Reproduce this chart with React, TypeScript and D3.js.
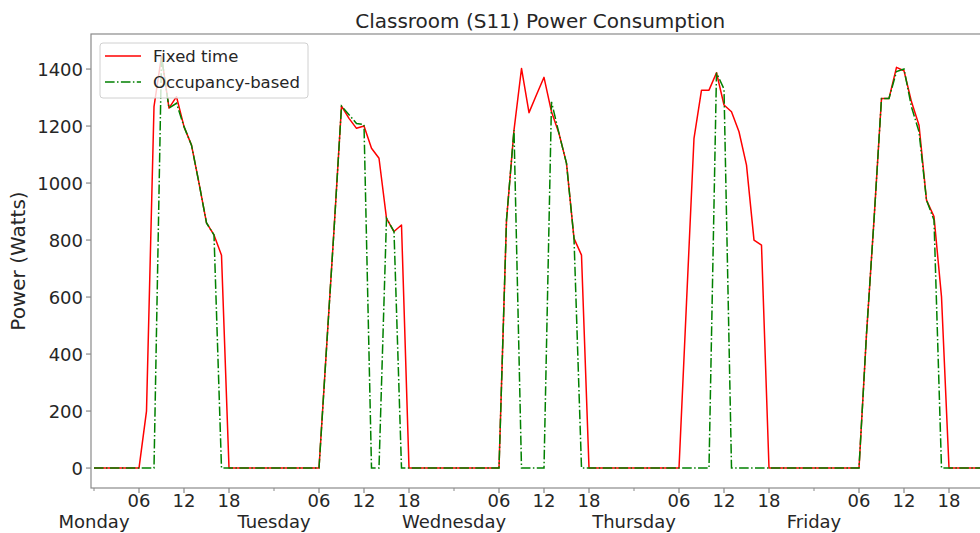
import * as d3 from "d3";

const W = 980;
const H = 533;
const FONT = "'DejaVu Sans', sans-serif";

// hourly readings, Monday 00:00 .. Friday 23:00 (Watts)
const days = ["Monday", "Tuesday", "Wednesday", "Thursday", "Friday"];
const hourLabels = ["06", "12", "18"];
const yTicks = [0, 200, 400, 600, 800, 1000, 1200, 1400];

const fixedMon = [0, 0, 0, 0, 0, 0, 0, 200, 1268, 1445, 1263, 1303, 1198, 1133, 1000, 860, 818, 747, 0, 0, 0, 0, 0, 0];
const fixedTue = [0, 0, 0, 0, 0, 0, 0, 420, 835, 1270, 1227, 1192, 1200, 1122, 1087, 876, 830, 853, 0, 0, 0, 0, 0, 0];
const fixedWed = [0, 0, 0, 0, 0, 0, 0, 870, 1186, 1402, 1247, 1310, 1371, 1250, 1174, 1069, 806, 747, 0, 0, 0, 0, 0, 0];
const fixedThu = [0, 0, 0, 0, 0, 0, 0, 580, 1157, 1326, 1326, 1387, 1274, 1250, 1180, 1063, 800, 782, 0, 0, 0, 0, 0, 0];
const fixedFri = [0, 0, 0, 0, 0, 0, 0, 470, 870, 1297, 1297, 1406, 1394, 1285, 1203, 940, 882, 601, 0, 0, 0, 0, 0, 0];

const occMon = [0, 0, 0, 0, 0, 0, 0, 0, 0, 1445, 1263, 1280, 1198, 1133, 1000, 860, 818, 0, 0, 0, 0, 0, 0, 0];
const occTue = [0, 0, 0, 0, 0, 0, 0, 420, 835, 1270, 1240, 1209, 1205, 0, 0, 876, 830, 0, 0, 0, 0, 0, 0, 0];
const occWed = [0, 0, 0, 0, 0, 0, 0, 870, 1186, 0, 0, 0, 0, 1285, 1174, 1069, 806, 0, 0, 0, 0, 0, 0, 0];
const occThu = [0, 0, 0, 0, 0, 0, 0, 0, 0, 0, 0, 1387, 1330, 0, 0, 0, 0, 0, 0, 0, 0, 0, 0, 0];
const occFri = [0, 0, 0, 0, 0, 0, 0, 470, 870, 1297, 1297, 1391, 1400, 1267, 1180, 940, 870, 0, 0, 0, 0, 0, 0, 0];

const fixedTime = [...fixedMon, ...fixedTue, ...fixedWed, ...fixedThu, ...fixedFri];
const occupancy = [...occMon, ...occTue, ...occWed, ...occThu, ...occFri];

const MARGIN = { top: 34, left: 91 };
const PLOT_RIGHT = 989.5;
const PLOT_BOTTOM = 488;

export default function App() {
  const x = d3.scaleLinear().domain([-0.4, 119.4]).range([MARGIN.left, PLOT_RIGHT]);
  const y = d3.scaleLinear().domain([-70, 1523]).range([PLOT_BOTTOM, MARGIN.top]);

  const line = d3
    .line<number>()
    .x((_, i) => x(i))
    .y((d) => y(d));

  const hours = d3.range(0, fixedTime.length);
  const majorHours = hours.filter((h) => h % 6 === 0 && h % 24 !== 0);
  const dayHours = hours.filter((h) => h % 24 === 0);

  const spine = "#8a8a8a";
  const txt = "#262626";

  return (
    <svg width={W} height={H} style={{ position: "absolute", left: 0, top: 0, background: "#fff" }} fontFamily={FONT}>
      <defs>
        <clipPath id="plot">
          <rect x={MARGIN.left} y={MARGIN.top} width={PLOT_RIGHT - MARGIN.left} height={PLOT_BOTTOM - MARGIN.top} />
        </clipPath>
      </defs>

      <text x={(MARGIN.left + PLOT_RIGHT) / 2} y={28} textAnchor="middle" fontSize={20} fill={txt}>
        Classroom (S11) Power Consumption
      </text>

      {/* lines */}
      <g clipPath="url(#plot)">
        <path d={line(fixedTime) || ""} fill="none" stroke="#ff0000" strokeWidth={1.5} strokeLinejoin="round" />
        <path d={line(occupancy) || ""} fill="none" stroke="#008000" strokeWidth={1.5} strokeDasharray="9.6,2.4,1.5,2.4" />
      </g>

      {/* spines */}
      <rect x={MARGIN.left} y={MARGIN.top} width={PLOT_RIGHT - MARGIN.left} height={PLOT_BOTTOM - MARGIN.top} fill="none" stroke={spine} strokeWidth={1.2} />

      {/* y axis */}
      {yTicks.map((t) => (
        <g key={t}>
          <line x1={MARGIN.left - 5} x2={MARGIN.left} y1={y(t)} y2={y(t)} stroke={spine} strokeWidth={1.2} />
          <text x={MARGIN.left - 8} y={y(t) + 6.5} textAnchor="end" fontSize={18} fill={txt}>
            {t}
          </text>
        </g>
      ))}
      <text transform={`translate(25,${(MARGIN.top + PLOT_BOTTOM) / 2}) rotate(-90)`} textAnchor="middle" fontSize={20} fill={txt}>
        Power (Watts)
      </text>

      {/* x axis */}
      {majorHours.map((h) => (
        <g key={h}>
          <line x1={x(h)} x2={x(h)} y1={PLOT_BOTTOM} y2={PLOT_BOTTOM + 5} stroke={spine} strokeWidth={1.2} />
          <text x={x(h)} y={507} textAnchor="middle" fontSize={18} fill={txt}>
            {hourLabels[(h % 24) / 6 - 1]}
          </text>
        </g>
      ))}
      {dayHours.map((h) => (
        <g key={h}>
          <line x1={x(h)} x2={x(h)} y1={PLOT_BOTTOM} y2={PLOT_BOTTOM + 3} stroke={spine} strokeWidth={1} />
          <text x={x(h)} y={528} textAnchor="middle" fontSize={18} fill={txt}>
            {days[h / 24]}
          </text>
        </g>
      ))}

      {/* legend */}
      <g>
        <rect x={100} y={43} width={208} height={55} rx={3} fill="#fff" fillOpacity={0.8} stroke="#d0d0d0" />
        <line x1={105} x2={141} y1={56} y2={56} stroke="#ff0000" strokeWidth={1.5} />
        <text x={153} y={62} fontSize={16.5} fill={txt}>Fixed time</text>
        <line x1={105} x2={141} y1={82} y2={82} stroke="#008000" strokeWidth={1.5} strokeDasharray="9.6,2.4,1.5,2.4" />
        <text x={153} y={88} fontSize={16.5} fill={txt}>Occupancy-based</text>
      </g>
    </svg>
  );
}
